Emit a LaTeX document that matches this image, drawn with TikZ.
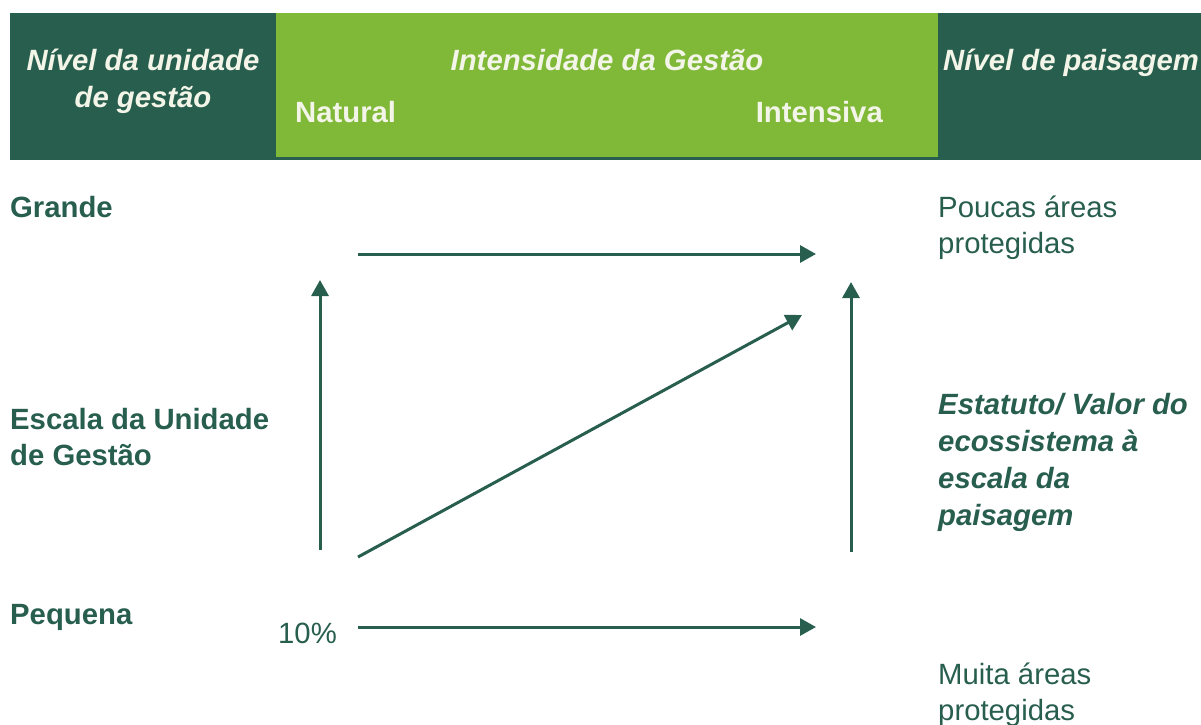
\documentclass[tikz,border=0pt]{standalone}
\usepackage{fontspec}
\setmainfont{Liberation Sans}
\usetikzlibrary{arrows.meta}
\definecolor{darkgreen}{RGB}{40,94,78}
\definecolor{lightgreen}{RGB}{128,184,56}
\definecolor{cream}{RGB}{242,245,232}
\begin{document}
\begin{tikzpicture}[x=1pt,y=-1pt,
  font=\fontsize{29.3}{36}\selectfont,
  txt/.style={text=darkgreen,align=left,inner sep=0pt,anchor=base west},
  hd/.style={text=cream,inner sep=0pt,font=\fontsize{29.3}{37}\selectfont\bfseries},
  arr/.style={darkgreen,line width=3pt,-{Triangle[length=16pt,width=17pt]}}]
\useasboundingbox (0,0) rectangle (1201,724);
% header band
\fill[darkgreen] (10,13) rectangle (1201,160);
\fill[lightgreen] (276,13) rectangle (938,157);
% multi-line nodes sit on the baseline of their last line
\node[hd,align=center,anchor=base,font=\fontsize{29.3}{37}\selectfont\bfseries\itshape] (nivelUnid) at (143,107) {Nível da unidade\\de gestão};
\node[hd,anchor=base,font=\fontsize{29.3}{37}\selectfont\bfseries\itshape] (intens) at (607,70) {Intensidade da Gestão};
\node[hd,anchor=base west] (natural) at (295,122) {Natural};
\node[hd,anchor=base east] (intensiva) at (883,122) {Intensiva};
\node[hd,anchor=base west,font=\fontsize{29.3}{37}\selectfont\bfseries\itshape] (nivelPais) at (943,70) {Nível de paisagem};
% left labels
\node[txt,font=\fontsize{29.3}{36}\selectfont\bfseries] (grande) at (10,217) {Grande};
\node[txt,font=\fontsize{29.3}{36}\selectfont\bfseries] (escala) at (10,465) {Escala da Unidade\\de Gestão};
\node[txt,font=\fontsize{29.3}{36}\selectfont\bfseries] (pequena) at (10,624) {Pequena};
\node[txt] (pct) at (278,643) {10\%};
% right labels
\node[txt] (poucas) at (938,253) {Poucas áreas\\protegidas};
\node[txt,font=\fontsize{29.3}{37}\selectfont\bfseries\itshape] (estatuto) at (938,525) {Estatuto/ Valor do\\ecossistema à\\escala da\\paisagem};
\node[txt] (muitas) at (938,720) {Muita áreas\\protegidas};
% arrows
\coordinate (topL) at (358,254);
\coordinate (topR) at (816,254);
\coordinate (botL) at (358,627);
\coordinate (botR) at (816,627);
\coordinate (leftB) at (320,550);
\coordinate (leftT) at (320,280);
\coordinate (rightB) at (851,552);
\coordinate (rightT) at (851,282);
\coordinate (diagB) at (358,557);
\coordinate (diagT) at (802,315);
\draw[arr] (topL) -- (topR);
\draw[arr] (botL) -- (botR);
\draw[arr] (leftB) -- (leftT);
\draw[arr] (rightB) -- (rightT);
\draw[arr] (diagB) -- (diagT);
\end{tikzpicture}
\end{document}
